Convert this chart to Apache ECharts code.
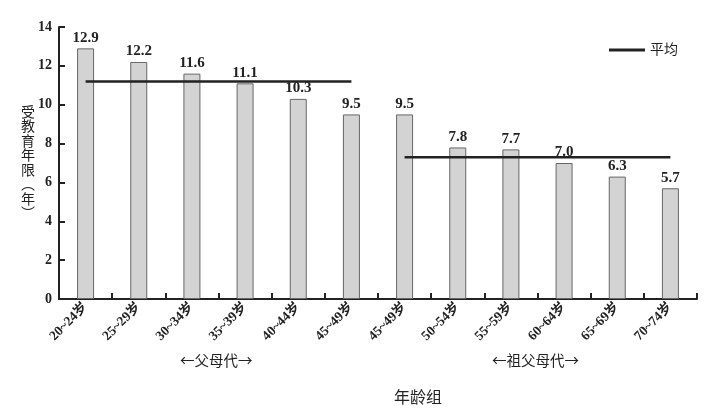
<!DOCTYPE html>
<html>
<head>
<meta charset="utf-8">
<script src="https://cdn.jsdelivr.net/npm/echarts@6/dist/echarts.min.js"></script>
<style>html,body{margin:0;padding:0;background:#fff;}#c{width:704px;height:415px;}</style>
</head>
<body>
<div id="c"></div>
<script>
var categories = ['20~24岁','25~29岁','30~34岁','35~39岁','40~44岁','45~49岁','45~49岁','50~54岁','55~59岁','60~64岁','65~69岁','70~74岁'];
var years = [12.9, 12.2, 11.6, 11.1, 10.3, 9.5, 9.5, 7.8, 7.7, 7.0, 6.3, 5.7];
var parentAvg = [11.2, 11.2, 11.2, 11.2, 11.2, 11.2, null, null, null, null, null, null];
var grandAvg = [null, null, null, null, null, null, 7.3, 7.3, 7.3, 7.3, 7.3, 7.3];
var yTicks = [0, 2, 4, 6, 8, 10, 12, 14];
var yName = '受教育年限︵年︶';

var serif = '"Liberation Serif","DejaVu Serif",serif';
var cjk = '"Liberation Serif","Noto Sans CJK SC",serif';
var chart = echarts.init(document.getElementById('c'));
chart.setOption({
  animation: false,
  backgroundColor: '#fff',
  grid: { left: 59, top: 27, right: 7, bottom: 116, containLabel: false },
  legend: {
    data: [{ name: '平均', icon: 'rect' }],
    left: 604, top: 38,
    itemWidth: 36, itemHeight: 3, itemGap: 6,
    textStyle: { fontFamily: cjk, fontSize: 14, color: '#222' }
  },
  xAxis: {
    type: 'category',
    data: categories,
    name: '年龄组',
    nameLocation: 'middle',
    nameGap: 92,
    nameTextStyle: { fontFamily: cjk, fontSize: 16, color: '#222', padding: [0, 0, 0, 80] },
    axisLine: { lineStyle: { color: '#222', width: 2 } },
    axisTick: { show: true, interval: 0, inside: true, length: 6, lineStyle: { color: '#222', width: 2 } },
    axisLabel: { interval: 0, rotate: 45, fontFamily: cjk, fontSize: 13.5, fontWeight: 'bold', color: '#222', margin: 6 }
  },
  yAxis: {
    type: 'value',
    min: yTicks[0], max: yTicks[yTicks.length - 1], interval: 2,
    axisLine: { show: true, lineStyle: { color: '#222', width: 2 } },
    axisTick: { show: true, inside: true, length: 6, lineStyle: { color: '#222', width: 2 } },
    splitLine: { show: false },
    axisLabel: { fontFamily: serif, fontSize: 14, fontWeight: 'bold', color: '#222', margin: 7 }
  },
  series: [
    {
      type: 'bar',
      data: years,
      barWidth: 17,
      itemStyle: { color: '#d3d3d3', borderColor: '#666', borderWidth: 1 },
      label: { show: true, position: 'top', distance: 3, fontFamily: serif, fontSize: 15, fontWeight: 'bold', color: '#222',
        formatter: function (p) { return p.value.toFixed(1); } },
      z: 2
    },
    {
      name: '平均', type: 'line', data: parentAvg, symbol: 'none', connectNulls: false,
      lineStyle: { color: '#222', width: 2.5 }, itemStyle: { color: '#222' }, z: 3
    },
    {
      name: '平均', type: 'line', data: grandAvg, symbol: 'none', connectNulls: false,
      lineStyle: { color: '#222', width: 2.5 }, itemStyle: { color: '#222' }, z: 3
    }
  ],
  graphic: [
    { type: 'text', x: 28, y: 104, style: { text: yName.split('').join('\n'), font: '14px "Noto Sans CJK SC",sans-serif', lineHeight: 14.5, align: 'center', verticalAlign: 'top', fill: '#222' } },
    { type: 'text', left: 180, top: 353, style: { text: '←父母代→', font: '14.5px "Noto Sans CJK SC",sans-serif', fill: '#222' } },
    { type: 'text', left: 492, top: 353, style: { text: '←祖父母代→', font: '14.5px "Noto Sans CJK SC",sans-serif', fill: '#222' } }
  ]
});
</script>
</body>
</html>
